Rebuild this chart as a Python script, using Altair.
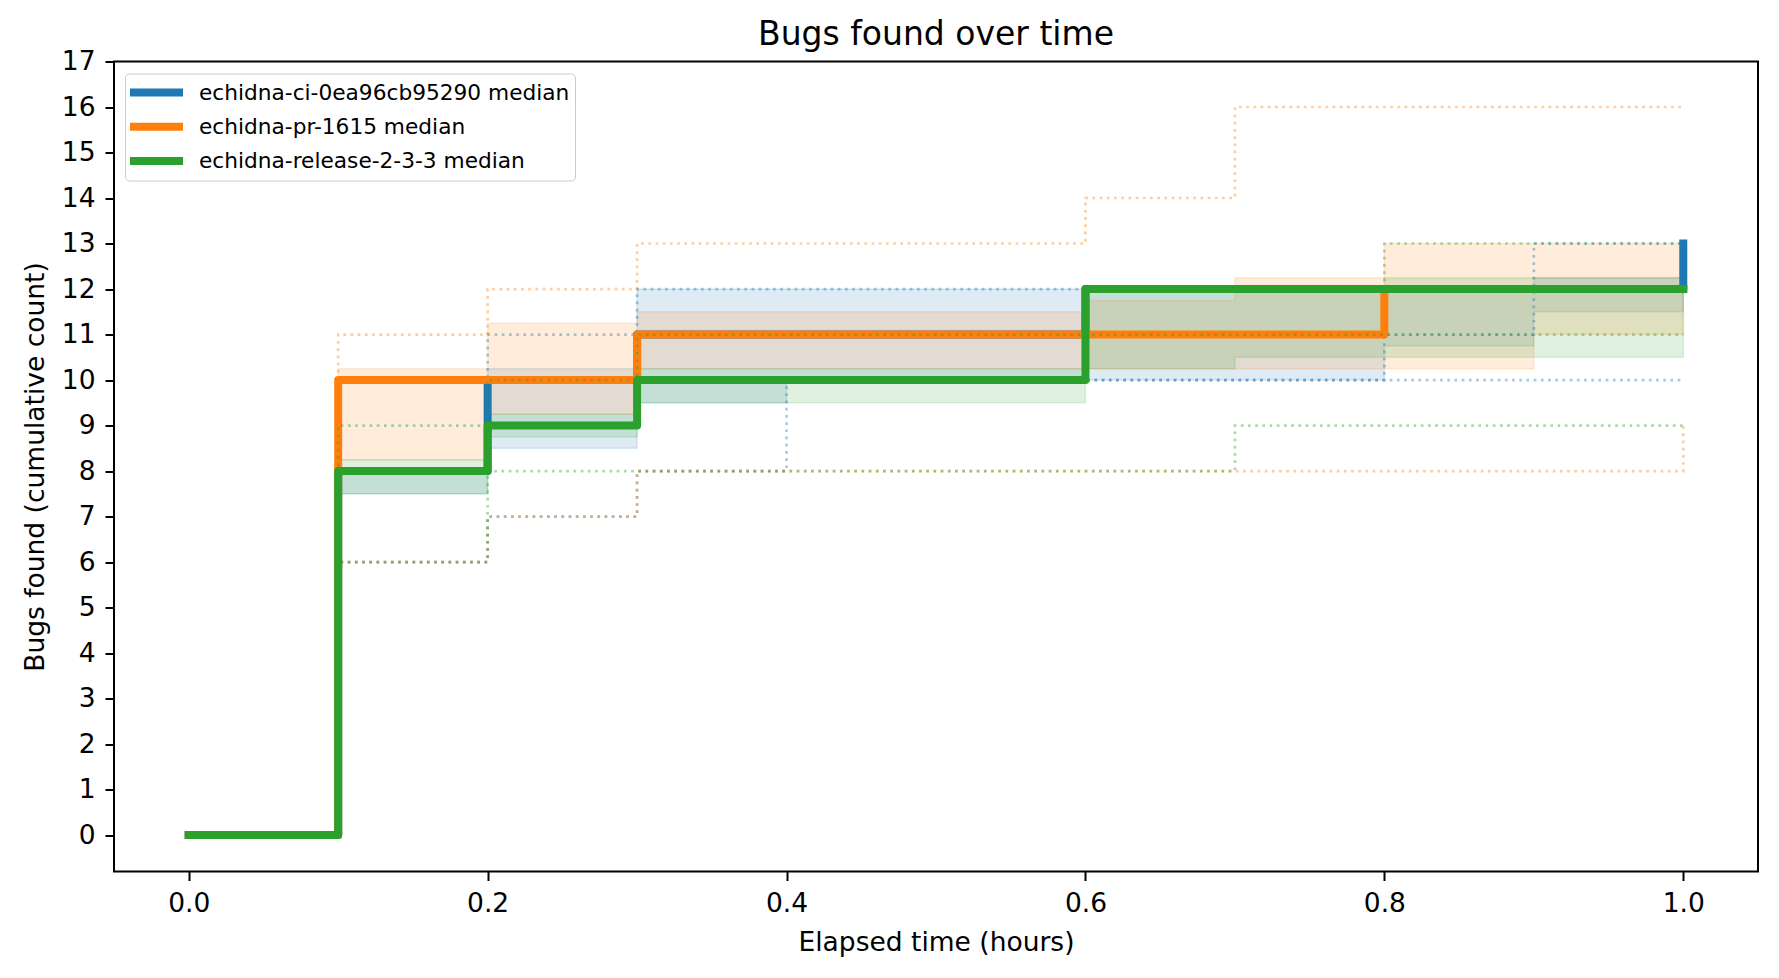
import altair as alt
import pandas as pd

# elapsed time (hours) at which each campaign was sampled
hours = [0.0, 0.1, 0.2, 0.3, 0.4, 0.5, 0.6, 0.7, 0.8, 0.9, 1.0]

campaigns = ["echidna-ci-0ea96cb95290", "echidna-pr-1615", "echidna-release-2-3-3"]
palette = ["#1f77b4", "#ff7f0e", "#2ca02c"]

# medians (thick lines)
ci_median = [0, 8, 10, 11, 11, 11, 12, 12, 12, 12, 13]
pr_median = [0, 10, 10, 11, 11, 11, 11, 11, 12, 12, 12]
rel_median = [0, 8, 9, 10, 10, 10, 12, 12, 12, 12, 12]

# shaded bands (low / high)
ci_low = [0, 7.5, 8.5, 9.5, 10, 10, 10, 10, 10.75, 11.5, 11.5]
ci_high = [0, 8, 10.25, 12, 12, 12, 12, 12, 12, 12.25, 12.25]
pr_low = [0, 8.25, 9.25, 10.25, 10.25, 10.25, 10.25, 10.25, 10.25, 11, 11]
pr_high = [0, 10.25, 11.25, 11.5, 11.5, 11.5, 11.75, 12.25, 13, 13, 13]
rel_low = [0, 7.5, 8.75, 9.5, 9.5, 9.5, 10.25, 10.5, 10.5, 10.5, 10.5]
rel_high = [0, 8.25, 9.25, 10.25, 10.25, 10.25, 12, 12, 12.25, 12.25, 12.25]

# individual runs (dotted)
ci_runs = [
    [0, 6, 7, 8, 10, 10, 10, 10, 10, 10, 10],
    [0, 10, 11, 12, 12, 12, 12, 12, 12, 12, 13],
    [0, 8, 10, 10, 10, 10, 10, 10, 11, 13, 13],
]
pr_runs = [
    [0, 6, 7, 8, 8, 8, 8, 8, 8, 8, 9],
    [0, 10, 10, 11, 11, 11, 11, 11, 12, 12, 12],
    [0, 11, 12, 13, 13, 13, 14, 16, 16, 16, 16],
]
rel_runs = [
    [0, 6, 8, 8, 8, 8, 8, 9, 9, 9, 9],
    [0, 9, 10, 11, 11, 11, 11, 11, 11, 11, 11],
    [0, 8, 9, 10, 10, 10, 12, 12, 13, 13, 13],
]

y_ticks = list(range(18))
x_ticks = [0.0, 0.2, 0.4, 0.6, 0.8, 1.0]

labels = [c + " median" for c in campaigns]

x_enc = alt.X(
    "t:Q",
    scale=alt.Scale(domain=[-0.05, 1.05], nice=False, zero=False),
    axis=alt.Axis(values=x_ticks, format=".1f", title="Elapsed time (hours)"),
)


def y_enc(field):
    return alt.Y(
        field,
        scale=alt.Scale(domain=[-0.8, 17], nice=False, zero=False),
        axis=alt.Axis(values=y_ticks, title="Bugs found (cumulative count)"),
    )


def band_layer(low, high, color):
    df = pd.DataFrame({"t": hours, "lo": low, "hi": high})
    return alt.Chart(df).mark_area(
        interpolate="step-after", color=color, fillOpacity=0.15,
        stroke=color, strokeOpacity=0.15, strokeWidth=1.5,
    ).encode(x=x_enc, y=y_enc("lo:Q"), y2="hi:Q")


def runs_layer(runs, color):
    rows = []
    for i, run in enumerate(runs):
        for t, v in zip(hours, run):
            rows.append({"t": t, "bugs": v, "run": i})
    df = pd.DataFrame(rows)
    return alt.Chart(df).mark_line(
        interpolate="step-after", color=color, opacity=0.4,
        strokeWidth=2.7, strokeDash=[2.7, 4.5],
    ).encode(x=x_enc, y=y_enc("bugs:Q"), detail="run:N")


def median_layer(values, label):
    df = pd.DataFrame({"t": hours, "bugs": values, "label": label})
    return alt.Chart(df).mark_line(
        interpolate="step-after", strokeWidth=8, strokeJoin="round", strokeCap="square",
    ).encode(
        x=x_enc,
        y=y_enc("bugs:Q"),
        color=alt.Color(
            "label:N",
            scale=alt.Scale(domain=labels, range=palette),
            legend=alt.Legend(
                title=None, orient="none", legendX=11, legendY=12,
                symbolType="stroke", symbolSize=2916, symbolStrokeWidth=8,
                symbolOffset=-5,
                labelFontSize=21.7, labelColor="black", labelLimit=0,
                padding=5, rowPadding=6.3, clipHeight=28, labelOffset=12,
                strokeColor="#cccccc", cornerRadius=4, fillColor="white",
            ),
        ),
    )


layers = [
    band_layer(ci_low, ci_high, palette[0]),
    band_layer(pr_low, pr_high, palette[1]),
    band_layer(rel_low, rel_high, palette[2]),
    runs_layer(ci_runs, palette[0]),
    median_layer(ci_median, labels[0]),
    runs_layer(pr_runs, palette[1]),
    median_layer(pr_median, labels[1]),
    runs_layer(rel_runs, palette[2]),
    median_layer(rel_median, labels[2]),
]

chart = alt.layer(*layers).properties(
    width=1644,
    height=810,
    title=alt.TitleParams(
        "Bugs found over time", fontSize=33, fontWeight="normal",
        offset=-3, anchor="middle", frame="group", color="black",
    ),
    autosize=alt.AutoSizeParams(type="none"),
    padding={"left": 106, "top": 53.5, "right": 10, "bottom": 90},
).configure(
    font="DejaVu Sans",
).configure_view(
    stroke="black", strokeWidth=2,
).configure_axis(
    grid=False, domain=False, tickColor="black", tickWidth=2, tickSize=9,
    labelFontSize=26.5, labelColor="black", labelPadding=10, labelFlush=False,
    titleFontSize=26.5, titleFontWeight="normal", titleColor="black", titlePadding=12,
)

chart.save("out.html", embed_options={"renderer": "svg", "actions": False})
